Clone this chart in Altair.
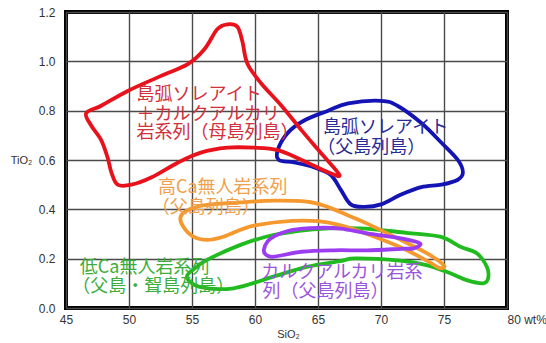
import altair as alt
import pandas as pd

# Outlines of the rock-series fields (SiO2 wt%, TiO2 wt%)
red_x = [46.6, 47.8, 49.9, 52.5, 54.7, 56.0, 57.0, 57.8, 58.6, 59.0, 59.4, 60.5, 62.1, 63.7, 65.2, 66.7,
         65.8, 63.7, 61.8, 59.9, 57.8, 55.7, 53.9, 51.8, 50.2, 49.1, 48.6, 48.3, 47.8, 47.0]
red_y = [0.79, 0.82, 0.88, 0.94, 0.99, 1.05, 1.13, 1.15, 1.14, 1.08, 0.99, 0.91, 0.82, 0.72, 0.63, 0.54,
         0.55, 0.60, 0.64, 0.65, 0.65, 0.63, 0.59, 0.53, 0.50, 0.50, 0.55, 0.61, 0.68, 0.74]

blue_x = [61.8, 62.6, 63.9, 65.8, 67.4, 70.0, 71.3, 73.2, 74.8, 76.1, 76.5, 76.1, 74.8, 73.2, 71.6, 70.0,
          68.7, 67.6, 66.8, 66.0, 64.7, 63.1, 61.9]
blue_y = [0.64, 0.71, 0.76, 0.80, 0.83, 0.84, 0.82, 0.75, 0.67, 0.60, 0.55, 0.52, 0.50, 0.49, 0.46, 0.42,
          0.41, 0.42, 0.48, 0.54, 0.57, 0.59, 0.60]

orange_x = [54.1, 54.8, 56.2, 58.8, 61.5, 64.1, 65.7, 67.3, 68.9, 71.6, 73.7, 75.0, 74.6, 73.7, 71.6, 68.9,
            66.8, 65.0, 62.9, 60.1, 58.8, 57.5, 56.2, 55.1, 54.3]
orange_y = [0.370, 0.400, 0.418, 0.428, 0.435, 0.431, 0.411, 0.377, 0.342, 0.275, 0.220, 0.172, 0.163, 0.190,
            0.245, 0.300, 0.335, 0.352, 0.353, 0.336, 0.316, 0.289, 0.276, 0.289, 0.330]

purple_x = [60.7, 61.0, 61.6, 62.9, 65.0, 66.8, 68.9, 71.6, 73.1, 72.6, 71.6, 68.9, 66.3, 63.7, 61.5, 60.9]
purple_y = [0.235, 0.270, 0.293, 0.316, 0.325, 0.322, 0.303, 0.282, 0.262, 0.242, 0.240, 0.234, 0.234, 0.228,
            0.208, 0.215]

green_x = [54.6, 55.2, 56.2, 58.8, 61.45, 64.6, 68.3, 72.0, 74.7, 76.3, 77.6, 78.4, 78.5, 78.1, 76.8, 75.5,
           73.6, 71.5, 68.0, 66.75, 64.1, 61.45, 58.3, 55.6]
green_y = [0.125, 0.160, 0.195, 0.255, 0.296, 0.319, 0.323, 0.305, 0.289, 0.248, 0.222, 0.167, 0.120, 0.100,
           0.113, 0.141, 0.174, 0.192, 0.201, 0.190, 0.167, 0.127, 0.080, 0.086]

# drawing order: bottom first
fields = [
    ("green", green_x, green_y, "#1fbb1f"),
    ("orange", orange_x, orange_y, "#f5982e"),
    ("purple", purple_x, purple_y, "#9b3cf0"),
    ("blue", blue_x, blue_y, "#1414b4"),
    ("red", red_x, red_y, "#e8121c"),
]

# Field names, one row per text line
label_text = ["島弧ソレアイト", "＋カルクアルカリ", "岩系列（母島列島）",
              "島弧ソレアイト", "（父島列島）",
              "高Ca無人岩系列", "（父島列島）",
              "低Ca無人岩系列", "（父島・聟島列島）",
              "カルクアルカリ岩系", "列（父島列島）"]
label_x = [50.6, 50.6, 50.6, 65.4, 64.95, 52.3, 51.8, 46.1, 45.5, 60.5, 60.6]
label_y = [0.863, 0.782, 0.708, 0.728, 0.647, 0.485, 0.405, 0.161, 0.086, 0.141, 0.066]
label_color = ["#d2303a"] * 3 + ["#2a2a96"] * 2 + ["#f0a04c"] * 2 + ["#3cae3c"] * 2 + ["#9a55dc"] * 2

x_scale = alt.Scale(domain=[45, 80], nice=False, zero=False)
y_scale = alt.Scale(domain=[0, 1.2], nice=False)

x_axis = alt.Axis(
    values=[45, 50, 55, 60, 65, 70, 75, 80],
    labelExpr="datum.value == 80 ? '80 wt%' : datum.label",
    labelAlign={"condition": {"test": "datum.value == 80", "value": "left"}, "value": "center"},
    labelOverlap=False, labelFlush=False, labelBound=False,
    labelPadding=6, title="SiO₂", titleX=222, titleY=26,
    titleBaseline="middle", titleAlign="center",
)
y_axis = alt.Axis(
    values=[0, 0.2, 0.4, 0.6, 0.8, 1.0, 1.2], format=".1f",
    labelPadding=11, labelOverlap=False, labelFlush=False,
    title="TiO₂", titleAngle=0, titleX=-45, titleY=148,
    titleAlign="center", titleBaseline="middle",
)

layers = []
for name, xs, ys, color in fields:
    df = pd.DataFrame({"idx": range(len(xs)), "SiO2": xs, "TiO2": ys})
    layers.append(
        alt.Chart(df).mark_line(interpolate="cardinal-closed", color=color, strokeWidth=3.8,
                                strokeJoin="round", strokeCap="round")
        .encode(
            x=alt.X("SiO2:Q", scale=x_scale, axis=x_axis),
            y=alt.Y("TiO2:Q", scale=y_scale, axis=y_axis),
            order="idx:Q",
        )
    )

labels_df = pd.DataFrame({"text": label_text, "SiO2": label_x, "TiO2": label_y, "color": label_color})
labels = alt.Chart(labels_df).mark_text(
    align="left", baseline="middle", font="Noto Sans CJK JP", fontSize=18
).encode(
    x=alt.X("SiO2:Q", scale=x_scale, axis=x_axis),
    y=alt.Y("TiO2:Q", scale=y_scale, axis=y_axis),
    text="text:N",
    color=alt.Color("color:N", scale=None),
)

chart = alt.layer(*layers, labels).properties(
    width=441, height=296,
    autosize=alt.AutoSizeParams(type="none"),
    padding={"left": 66, "top": 12, "right": 39, "bottom": 35},
    background="white",
).configure_view(
    stroke="black", strokeWidth=4
).configure_axis(
    grid=True, gridColor="#4a4a4a", gridWidth=1.4, gridOpacity=1,
    domain=False, ticks=False,
    labelFont="Liberation Sans", labelFontSize=12, labelColor="#333333",
    titleFont="Liberation Sans", titleFontSize=11, titleFontWeight="normal", titleColor="#333333",
)

chart.save("out.html", embed_options={"renderer": "svg", "actions": False})
